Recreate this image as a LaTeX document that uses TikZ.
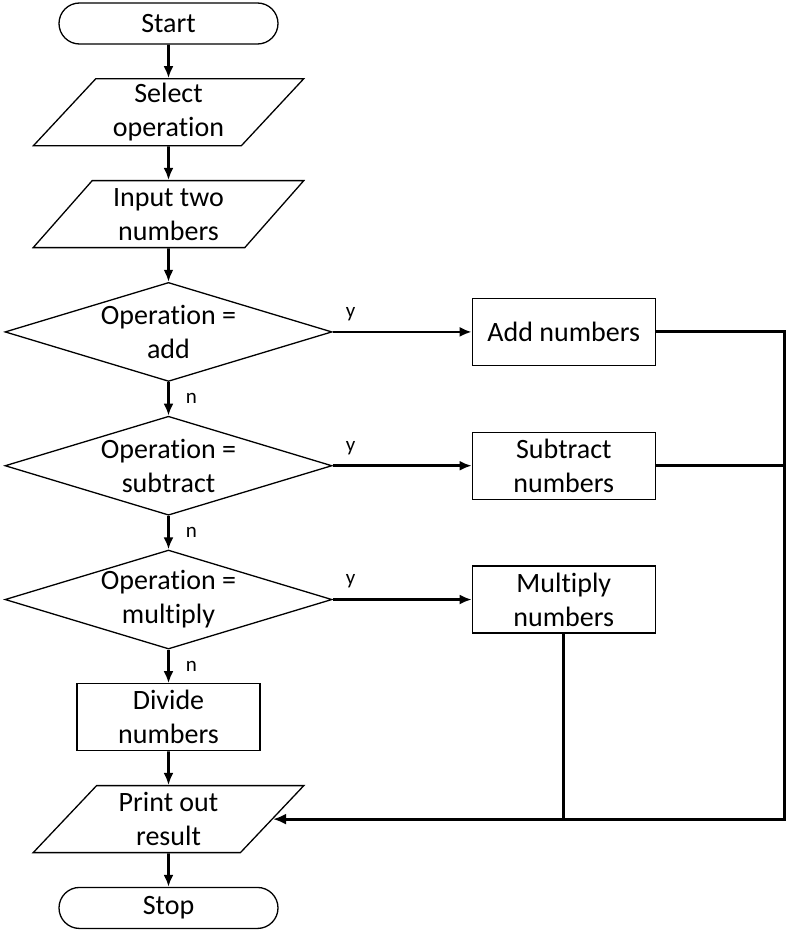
\documentclass[tikz,border=0pt]{standalone}
\usepackage{fontspec}
\setmainfont{Carlito}[Ligatures={NoCommon}]
\usetikzlibrary{shapes.geometric,positioning,arrows.meta}

\begin{document}
\begin{tikzpicture}[x=1pt, y=1pt, node distance=33.5pt]
\tikzstyle{base}=[draw=black, line width=1.3pt, align=center, inner sep=0pt, font=\fontsize{28}{34}\selectfont]
\tikzstyle{term}=[base, rectangle, rounded corners=20.5pt, minimum width=219pt, minimum height=41pt]
\tikzstyle{io}=[base, trapezium, trapezium left angle=50.6, trapezium right angle=129.4, trapezium stretches=true, minimum width=271pt, minimum height=67pt]
\tikzstyle{decide}=[base, diamond, minimum width=327pt, minimum height=99pt]
\tikzstyle{dtext}=[align=center, inner sep=0pt, font=\fontsize{28}{34}\selectfont]
\tikzstyle{process}=[base, rectangle, minimum width=183pt, minimum height=67pt]
\tikzstyle{connect}=[-{Latex[length=12pt, width=10pt]}, line width=2.6pt]
\tikzstyle{rail}=[line width=3pt]
\tikzstyle{tag}=[inner sep=2pt, font=\fontsize{21}{24}\selectfont]
\useasboundingbox (0,0) rectangle (788,-931);
\node[term] (start) at (168.5,-23.5) {Start};
\node[io] (select) [below=of start] {Select\\operation};
\node[io] (input) [below=of select] {Input two\\numbers};
\node[decide, label={[dtext]center:Operation =\\add}] (isadd) [below=of input] {};
\node[decide, label={[dtext]center:Operation =\\subtract}] (issub) [below=of isadd] {};
\node[decide, label={[dtext]center:Operation =\\multiply}] (ismul) [below=of issub] {};
\node[process] (divide) [below=of ismul] {Divide\\numbers};
\node[io] (print) [below=of divide] {Print out\\result};
\node[term] (stop) [below=of print] {Stop};
\node[process] (add) [right=139pt of isadd] {Add numbers};
\node[process] (sub) [right=139pt of issub] {Subtract\\numbers};
\node[process] (mul) [right=139pt of ismul] {Multiply\\numbers};
  \path
  	(start) edge [connect] (select)
  	(select) edge [connect] (input)
  	(input) edge [connect] (isadd)
  	(isadd) edge [connect] node[tag, right=14pt] {n} (issub)
  	(issub) edge [connect] node[tag, right=14pt] {n} (ismul)
  	(ismul) edge [connect] node[tag, right=14pt] {n} (divide)
  	(divide) edge [connect] (print)
  	(print) edge [connect] (stop)
  	(isadd) edge [connect] node[tag, pos=0.13, above=8pt] {y} (add)
  	(issub) edge [connect] node[tag, pos=0.13, above=8pt] {y} (sub)
  	(ismul) edge [connect] node[tag, pos=0.13, above=8pt] {y} (mul);
\coordinate (railend) at ([xshift=129pt]add.east |- print.east);
\draw[rail, -{Latex[length=13pt, width=11pt]}] (add.east) -| (railend) -- (print.east);
\draw[rail] (sub.east) -- (sub.east -| railend);
\draw[rail] (mul.south) -- (mul.south |- print.east);
\end{tikzpicture}
\end{document}
